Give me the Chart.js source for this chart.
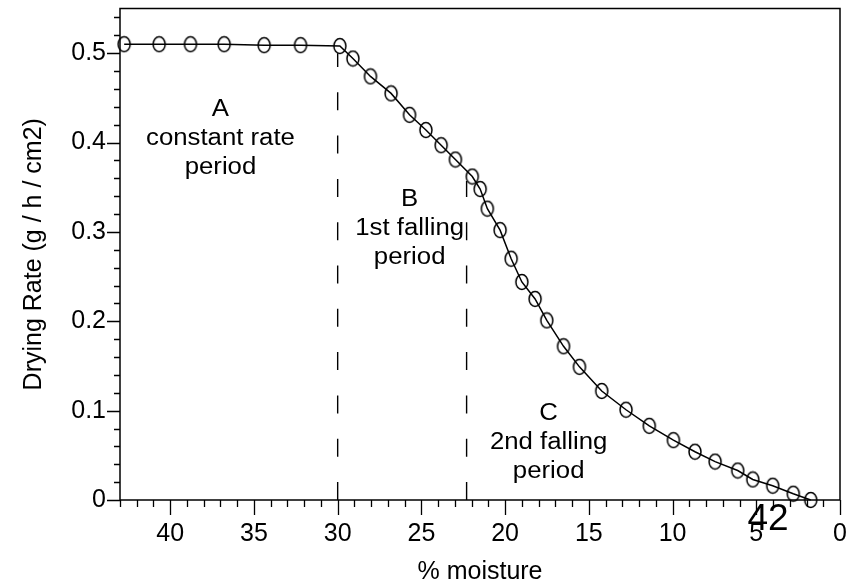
<!DOCTYPE html>
<html>
<head>
<meta charset="utf-8">
<script src="https://cdn.jsdelivr.net/npm/chart.js@4/dist/chart.umd.min.js"></script>
<style>
  html, body { margin: 0; padding: 0; background: #fff; }
</style>
</head>
<body>
<canvas id="dryingChart" width="864" height="585"></canvas>
<script>
// drying curve: moisture content (%) vs drying rate
const moisture = [42.75, 40.66, 38.79, 36.78, 34.39, 32.22, 29.87, 29.09, 28.04, 26.81,
                  25.71, 24.73, 23.82, 22.97, 21.96, 21.49, 21.06, 20.30, 19.64, 19.00,
                  18.21, 17.51, 16.51, 15.56, 14.23, 12.78, 11.39, 9.95, 8.66, 7.46,
                  6.11, 5.21, 4.02, 2.79, 1.75];
const rate = [0.510, 0.510, 0.510, 0.510, 0.509, 0.509, 0.508, 0.494, 0.474, 0.455,
              0.431, 0.414, 0.397, 0.381, 0.362, 0.348, 0.326, 0.302, 0.270, 0.244,
              0.225, 0.201, 0.172, 0.149, 0.122, 0.101, 0.083, 0.067, 0.054, 0.043,
              0.033, 0.023, 0.016, 0.007, 0.000];

const xMajor = [0, 5, 10, 15, 20, 25, 30, 35, 40];
const yMajor = [0, 0.1, 0.2, 0.3, 0.4, 0.5];

// period boundaries: [moisture, rate at top of dashed line]
const boundaries = [[30, 0.50], [22.3, 0.357]];

// period labels: [x, y of first line, lines]
const periods = [
  [37.0, 0.430, ['A', 'constant rate', 'period']],
  [25.7, 0.329, ['B', '1st falling', 'period']],
  [17.4, 0.089, ['C', '2nd falling', 'period']]
];

const FONT = '"Liberation Sans", Arial, sans-serif';
Chart.defaults.font.family = FONT;
Chart.defaults.color = '#000';

// open elliptical marker
const marker = document.createElement('canvas');
marker.width = 16; marker.height = 18;
(function () {
  const m = marker.getContext('2d');
  m.lineWidth = 1.5;
  m.strokeStyle = '#000';
  m.beginPath();
  m.ellipse(8, 9, 6, 7.5, 0, 0, Math.PI * 2);
  m.stroke();
})();

const decorations = {
  id: 'decorations',
  beforeDatasetsDraw(chart) {
    const { ctx, chartArea: a, scales: { x, y } } = chart;
    ctx.save();
    ctx.strokeStyle = '#000';
    ctx.lineWidth = 1.4;
    ctx.setLineDash([18, 25.3]);
    boundaries.forEach(([mx, top]) => {
      const px = x.getPixelForValue(mx);
      ctx.beginPath();
      ctx.moveTo(px, a.bottom);
      ctx.lineTo(px, y.getPixelForValue(top));
      ctx.stroke();
    });
    ctx.restore();
  },
  afterDraw(chart) {
    const { ctx, chartArea: a, scales: { x, y } } = chart;
    ctx.save();
    ctx.strokeStyle = '#000';
    ctx.lineWidth = 1.5;
    ctx.strokeRect(a.left, a.top, a.right - a.left, a.bottom - a.top);

    ctx.lineWidth = 1.3;
    ctx.beginPath();
    for (let v = 0; v <= 43; v++) {
      const px = Math.round(x.getPixelForValue(v)) + 0.5;
      ctx.moveTo(px, a.bottom);
      ctx.lineTo(px, a.bottom + (v % 5 === 0 ? 15 : 7));
    }
    for (let i = 0; i <= 27; i++) {
      const py = Math.round(y.getPixelForValue(i * 0.02)) + 0.5;
      ctx.moveTo(a.left, py);
      ctx.lineTo(a.left - (i % 5 === 0 ? 13 : 6), py);
    }
    ctx.stroke();

    ctx.fillStyle = '#000';
    ctx.textAlign = 'center';
    ctx.textBaseline = 'alphabetic';
    ctx.font = '23px ' + FONT;
    periods.forEach(([mx, my, lines]) => {
      const px = x.getPixelForValue(mx);
      const py = y.getPixelForValue(my);
      lines.forEach((t, i) => {
        ctx.save();
        ctx.translate(px, py + i * 29);
        ctx.scale(1.12, 1);
        ctx.fillText(t, 0, 0);
        ctx.restore();
      });
    });

    ctx.font = '37px ' + FONT;
    ctx.fillText('42', a.right - 72, a.bottom + 30);
    ctx.restore();
  }
};

new Chart(document.getElementById('dryingChart'), {
  type: 'line',
  data: {
    datasets: [{
      data: moisture.map((m, i) => ({ x: m, y: rate[i] })),
      borderColor: '#000',
      borderWidth: 1.5,
      tension: 0,
      fill: false,
      pointStyle: marker,
      pointRadius: 7,
      clip: false
    }]
  },
  options: {
    responsive: false,
    animation: false,
    devicePixelRatio: 1,
    layout: { padding: { top: 6, right: 24, left: 0, bottom: 0 } },
    plugins: { legend: { display: false }, tooltip: { enabled: false } },
    scales: {
      x: {
        type: 'linear',
        reverse: true,
        min: 0,
        max: 43,
        afterFit: s => { s.height = 85; s.paddingLeft = 0; s.paddingRight = 0; },
        afterBuildTicks: s => { s.ticks = xMajor.map(v => ({ value: v })); },
        grid: { display: false, drawTicks: false },
        border: { display: false },
        ticks: { padding: 19, font: { size: 25 }, maxRotation: 0 },
        title: {
          display: true,
          text: '% moisture',
          font: { size: 25, lineHeight: 1 },
          padding: { top: 0, bottom: 0 }
        }
      },
      y: {
        min: 0,
        max: 0.55,
        afterFit: s => { s.width = 120; s.paddingTop = 0; s.paddingBottom = 0; },
        afterBuildTicks: s => { s.ticks = yMajor.map(v => ({ value: v })); },
        grid: { display: false, drawTicks: false },
        border: { display: false },
        ticks: {
          padding: 14,
          font: { size: 25 },
          callback: v => v === 0 ? '0' : v.toFixed(1)
        },
        title: {
          display: true,
          text: 'Drying Rate (g / h / cm2)',
          font: { size: 25, lineHeight: 1 },
          padding: { top: 22, bottom: 0 }
        }
      }
    }
  },
  plugins: [decorations]
});
</script>
</body>
</html>
